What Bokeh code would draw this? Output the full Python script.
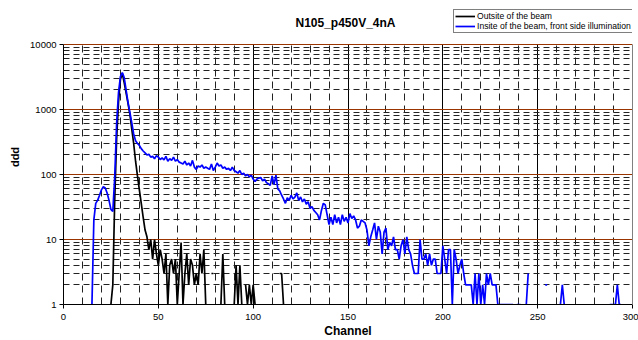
import numpy as np
from bokeh.plotting import figure
from bokeh.models import (Range1d, FixedTicker, SingleIntervalTicker, Legend, LegendItem,
                          ColumnDataSource, NumeralTickFormatter, LogAxis, Label)
from bokeh.embed import file_html
from bokeh.resources import INLINE

# ---------------- data ----------------
title_text = "N105_p450V_4nA"
x_label = "Channel"
y_label = "ddd"
series_names = ["Outsite of the beam", "Insite of the beam, front side illumination"]

y_ticks = [1, 10, 100, 1000, 10000]
y_minor_ticks = [m * d for d in [1, 10, 100, 1000] for m in range(2, 10)]

# outside of the beam (black), channels 24..117 ; 0 = no counts (not drawn on log axis)
black_start = 24
black_counts = [
    0, 1, 2, 40, 350, 1300, 2900, 3600, 2600, 1800,
    1250, 850, 500, 300, 160, 95, 58, 36, 22, 14,
    11, 7, 10, 5, 10, 6, 4, 7, 5, 3,
    6, 1, 4, 5, 3, 5, 1, 3, 9, 1,
    3, 6, 2, 5, 4, 2, 3, 2, 6, 3,
    7, 1, 0, 0, 3, 3, 0, 0, 0, 1,
    6, 1, 0, 0, 0, 0, 1, 4, 1, 4,
    1, 0, 2, 1, 2, 1, 2, 1, 0, 0,
    0, 0, 0, 0, 0, 0, 0, 0, 0, 0,
    3, 3, 1, 0,
]

# inside of the beam, front side illumination (blue), channels 14..295
blue_start = 14
blue_counts = [
    0, 1, 20, 36, 40, 48, 58, 65, 62, 52,
    40, 29, 27, 90, 600, 1800, 3200, 3700, 3100, 2000,
    1300, 900, 620, 420, 330, 300, 280, 250, 230, 215,
    200, 205, 185, 190, 175, 195, 185, 170, 180, 168,
    190, 160, 175, 165, 185, 160, 170, 155, 150, 145,
    160, 140, 150, 135, 165, 130, 120, 135, 130, 140,
    125, 130, 125, 120, 145, 115, 130, 150, 135, 140,
    125, 130, 120, 125, 115, 130, 115, 110, 105, 115,
    100, 105, 95, 100, 92, 98, 85, 78, 85, 88,
    90, 80, 85, 75, 72, 68, 95, 70, 98, 60,
    56, 48, 42, 36, 44, 40, 48, 42, 45, 52,
    40, 45, 38, 42, 35, 38, 30, 32, 28, 26,
    24, 20, 28, 36, 34, 24, 17, 22, 17, 24,
    18, 22, 17, 24, 19, 22, 18, 25, 21, 23,
    20, 15, 16, 20, 19, 18, 14, 8, 11, 14,
    18, 10, 16, 13, 6, 13, 15, 7, 9, 8,
    11, 7, 7, 5, 8, 10, 6, 11, 7, 6,
    4, 3, 3, 3, 10, 5, 5, 6, 4, 6,
    4, 5, 5, 3, 3, 3, 8, 5, 3, 7,
    7, 1, 7, 5, 3, 4, 5, 3, 2, 2,
    2, 2, 1, 3, 1, 3, 1, 2, 1, 3,
    2, 3, 2, 2, 2, 1, 1, 1, 1, 1,
    1, 1, 1, 1, 0, 1, 1, 1, 0, 0,
    1, 3, 0, 0, 0, 0, 0, 0, 0, 0,
    2, 2, 0, 0, 0, 0, 0, 0, 1, 2,
    1, 0, 0, 0, 0, 0, 0, 0, 0, 0,
    0, 0, 0, 0, 0, 0, 0, 0, 0, 0,
    0, 0, 0, 0, 1, 1, 1, 1, 2, 1,
    1, 0,
]


def to_source(start, counts):
    ch = np.arange(start, start + len(counts))
    y = np.array(counts, dtype=float)
    y[y <= 0] = np.nan  # zero counts cannot be shown on a log axis
    return ColumnDataSource(dict(x=ch, y=y))


FONT = "Liberation Sans"
Y_MIN, Y_MAX = y_ticks[0], y_ticks[-1]
# the frame reaches 35 px above the top decade (65 px per decade) so that the
# title and the legend can sit in the same band as in the original
y_frame_top = 10 ** (np.log10(Y_MAX) + 35 / 65)

p = figure(width=638, height=340, x_range=Range1d(0, 300), y_range=Range1d(Y_MIN, y_frame_top),
           y_axis_type="log", output_backend="svg", toolbar_location=None, title=None,
           min_border_left=63, min_border_right=6, min_border_top=9, min_border_bottom=36)

r_black = p.line("x", "y", source=to_source(black_start, black_counts), color="black", line_width=1.7)
r_blue = p.line("x", "y", source=to_source(blue_start, blue_counts), color="#0000FF", line_width=1.7)

# axes
p.xaxis.ticker = SingleIntervalTicker(interval=50, num_minor_ticks=5)
p.yaxis.ticker = FixedTicker(ticks=y_ticks, minor_ticks=y_minor_ticks)
p.yaxis.formatter = NumeralTickFormatter(format="0")
p.yaxis.bounds = (Y_MIN, Y_MAX)
p.xaxis.axis_label = x_label
p.yaxis.axis_label = y_label
for ax in (p.xaxis, p.yaxis):
    ax.axis_line_color = "black"
    ax.major_tick_line_color = "black"
    ax.major_tick_out = 4
    ax.major_tick_in = 0
    ax.minor_tick_out = 0
    ax.minor_tick_in = 0
    ax.major_label_text_font = FONT
    ax.major_label_text_font_size = "9.5px"
    ax.major_label_text_color = "black"
    ax.axis_label_text_font = FONT
    ax.axis_label_text_font_style = "bold"
    ax.axis_label_text_color = "black"
p.xaxis.axis_label_text_font_size = "12px"
p.yaxis.axis_label_text_font_size = "11px"
p.xaxis.major_label_standoff = 5
p.xaxis.axis_label_standoff = 1
p.yaxis.major_label_standoff = 3
p.yaxis.axis_label_standoff = 6

# right-hand border of the plot area (grey), only over the data decades
right_border = LogAxis(ticker=FixedTicker(ticks=[]), bounds=(Y_MIN, Y_MAX),
                       axis_line_color="#808080", major_tick_line_color=None,
                       minor_tick_line_color=None, major_label_text_font_size="0px")
p.add_layout(right_border, "right")

# grids
p.xgrid.grid_line_color = "black"
p.xgrid.grid_line_width = 1
p.xgrid.minor_grid_line_color = "#222222"
p.xgrid.minor_grid_line_dash = "7 5"
p.xgrid.minor_grid_line_width = 1
p.xgrid.cross_bounds = (Y_MIN, Y_MAX)
p.ygrid.grid_line_color = "#993300"
p.ygrid.grid_line_width = 1
p.ygrid.minor_grid_line_color = "#222222"
p.ygrid.minor_grid_line_dash = "6 4"
p.ygrid.minor_grid_line_width = 1

p.outline_line_color = None
p.background_fill_color = "white"
p.border_fill_color = "white"

# title (drawn in the band above the top decade)
title = Label(x=282, y=282, x_units="screen", y_units="screen", text=title_text,
              text_font=FONT, text_font_size="12px", text_font_style="bold",
              text_color="black", text_align="center", text_baseline="middle")
p.add_layout(title)

legend = Legend(items=[LegendItem(label=series_names[0], renderers=[r_black]),
                       LegendItem(label=series_names[1], renderers=[r_blue])],
                location=(390, 271))
legend.label_text_font = FONT
legend.label_text_font_size = "8.6px"
legend.label_text_color = "black"
legend.label_height = 10
legend.glyph_height = 10
legend.glyph_width = 20
legend.label_standoff = 2
legend.spacing = 0
legend.padding = 1
legend.margin = 0
legend.border_line_color = "black"
legend.border_line_width = 1
legend.background_fill_color = "white"
legend.background_fill_alpha = 1
p.add_layout(legend)

open("out.html", "w").write(file_html(p, INLINE))
